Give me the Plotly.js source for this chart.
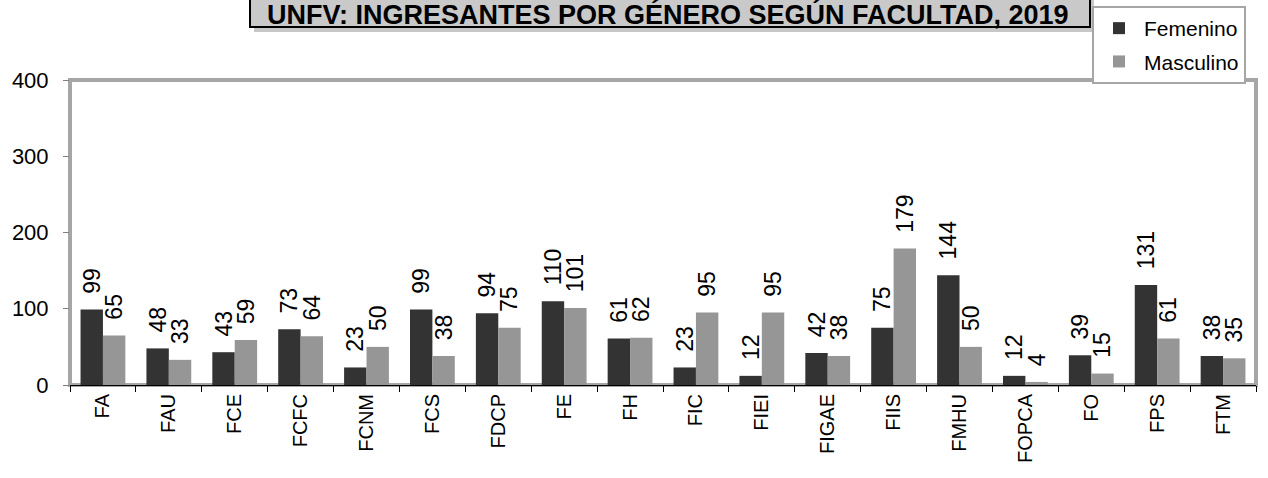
<!DOCTYPE html>
<html>
<head>
<meta charset="utf-8">
<script src="https://cdn.plot.ly/plotly-3.0.1.min.js"></script>
<style>html,body{margin:0;padding:0;background:#fff;}#chart{width:1268px;height:478px;}</style>
</head>
<body>
<div id="chart"></div>
<script>
const categories = ["FA","FAU","FCE","FCFC","FCNM","FCS","FDCP","FE","FH","FIC","FIEI","FIGAE","FIIS","FMHU","FOPCA","FO","FPS","FTM"];
const femenino = [99,48,43,73,23,99,94,110,61,23,12,42,75,144,12,39,131,38];
const masculino = [65,33,59,64,50,38,75,101,62,95,95,38,179,50,4,15,61,35];
const seriesNames = ["Femenino","Masculino"];
const titleText = "UNFV: INGRESANTES POR GÉNERO SEGÚN FACULTAD, 2019";

const W = 1268, H = 478, mL = 70, mR = 12, mT = 80, mB = 93;
const pw = W - mL - mR, ph = H - mT - mB;
const px = x => (x - mL) / pw;
const py = y => (H - mB - y) / ph;

const font = "Liberation Sans, Arial, sans-serif";
const labelPad = "\u00a0\u00a0";
const mk = (name, vals, color, grp) => ({
  type: "bar", name: name, x: categories, y: vals, legendgroup: grp,
  marker: {color: color, line: {width: 0}},
  text: vals.map(v => labelPad + v), textposition: "outside", textangle: -90,
  textfont: {family: font, size: 23, color: "#000"},
  constraintext: "none", cliponaxis: false, hoverinfo: "x+y"
});

const data = [mk(seriesNames[0], femenino, "#333333", "f"), mk(seriesNames[1], masculino, "#969696", "m")];

const layout = {
  width: W, height: H,
  margin: {l: mL, r: mR, t: mT, b: mB, pad: 0, autoexpand: false},
  paper_bgcolor: "#fff", plot_bgcolor: "#fff",
  barmode: "group", bargap: 0.32, bargroupgap: 0,
  font: {family: font, color: "#000"},
  showlegend: true,
  legend: {x: px(1092), y: py(6), xanchor: "left", yanchor: "top",
    bordercolor: "#a6a6a6", borderwidth: 2, bgcolor: "#fff",
    traceorder: "grouped", tracegroupgap: 3,
    font: {family: font, size: 21, color: "#000"}, itemwidth: 40},
  xaxis: {type: "category", showgrid: false, zeroline: false,
    showline: true, linecolor: "#000", linewidth: 1,
    ticks: "outside", tickson: "boundaries", ticklen: 6, tickcolor: "#000",
    tickangle: -90, tickfont: {family: font, size: 20, color: "#000"}},
  yaxis: {range: [0, 400], dtick: 100, showgrid: false, zeroline: false,
    showline: false, ticks: "outside", ticklen: 6, tickcolor: "#808080",
    tickfont: {family: font, size: 22, color: "#000"}, ticklabelstandoff: 10},
  shapes: [
    {type: "rect", xref: "paper", yref: "paper", x0: 0, x1: 1, y0: 0, y1: 1,
      line: {color: "#a6a6a6", width: 4}, fillcolor: "rgba(0,0,0,0)", layer: "below"},
    {type: "rect", xref: "paper", yref: "paper", x0: px(254), x1: px(1094), y0: py(32), y1: py(-20),
      line: {width: 0}, fillcolor: "rgba(0,0,0,0.22)", layer: "above"},
    {type: "rect", xref: "paper", yref: "paper", x0: px(250), x1: px(1090), y0: py(27), y1: py(-20),
      line: {color: "#000", width: 2}, fillcolor: "#c9c9c9", layer: "above"}
  ],
  annotations: [
    {xref: "paper", yref: "paper", x: px(668), y: py(14), xanchor: "center", yanchor: "middle",
      text: "<b>" + titleText + "</b>", showarrow: false,
      font: {family: font, size: 27, color: "#000"}}
  ]
};

Plotly.newPlot("chart", data, layout, {displayModeBar: false, staticPlot: true});
</script>
</body>
</html>
